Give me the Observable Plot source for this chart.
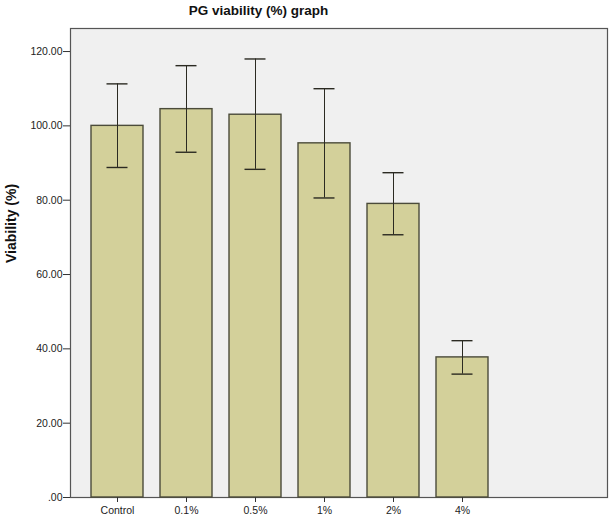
<!DOCTYPE html>
<html>
<head>
<meta charset="utf-8">
<script src="https://cdn.jsdelivr.net/npm/d3@7"></script>
<script src="https://cdn.jsdelivr.net/npm/@observablehq/plot@0.6"></script>
<style>
  body { margin: 0; background: #fff; font-family: "Liberation Sans", Arial, sans-serif; }
  #title { width: 611px; height: 21px; line-height: 21px; text-align: center; padding-right: 94px; box-sizing: border-box;
           font-weight: bold; font-size: 13.5px; color: #111; }
</style>
</head>
<body>
<div id="title">PG viability (%) graph</div>
<div id="chart"></div>
<script>
const categories = ["Control", "0.1%", "0.5%", "1%", "2%", "4%"];
const means = [100.0, 104.5, 103.0, 95.3, 79.0, 37.7];
const upper = [111.3, 116.2, 118.0, 110.0, 87.4, 42.2];
const lower = [88.8, 92.9, 88.3, 80.6, 70.7, 33.2];
const yTicks = [0, 20, 40, 60, 80, 100, 120];

const data = categories.map((c, i) => ({cat: c, mean: means[i], hi: upper[i], lo: lower[i]}));

const chart = Plot.plot({
  width: 611,
  height: 498,
  marginTop: 7,
  marginBottom: 22,
  marginLeft: 70,
  marginRight: 4,
  style: {fontFamily: "'Liberation Sans', Arial, sans-serif", background: "#fff", color: "#222"},
  x: {domain: categories, range: [70, 509], paddingInner: 0.25, paddingOuter: 0.3, label: null},
  y: {domain: [0, 126.2], label: null},
  marks: [
    Plot.frame({fill: "#f0f0f0", stroke: "#555", strokeWidth: 1.2}),
    Plot.barY(data, {x: "cat", y: "mean", fill: "#d3d09a", stroke: "#4b4b3a", strokeWidth: 1.4}),
    Plot.ruleX(data, {x: "cat", y1: "lo", y2: "hi", stroke: "#2b2a22", strokeWidth: 1}),
    Plot.tickY(data, {x: "cat", y: "hi", stroke: "#2b2a22", strokeWidth: 1.4, inset: 15.5}),
    Plot.tickY(data, {x: "cat", y: "lo", stroke: "#2b2a22", strokeWidth: 1.4, inset: 15.5}),
    Plot.axisY({ticks: yTicks, tickFormat: d => d === 0 ? ".00" : d.toFixed(2), tickSize: 7, tickPadding: 1,
                fontSize: 10.5, stroke: "#333", label: null}),
    Plot.axisX({tickSize: 5, tickPadding: 4, fontSize: 10.5, stroke: "#333", label: null}),
    Plot.text(["Viability (%)"], {frameAnchor: "left", text: d => d, rotate: -90, dx: -59,
                fontSize: 14, fontWeight: "bold", fill: "#111", lineAnchor: "middle"})
  ]
});
document.getElementById("chart").appendChild(chart);
</script>
</body>
</html>
